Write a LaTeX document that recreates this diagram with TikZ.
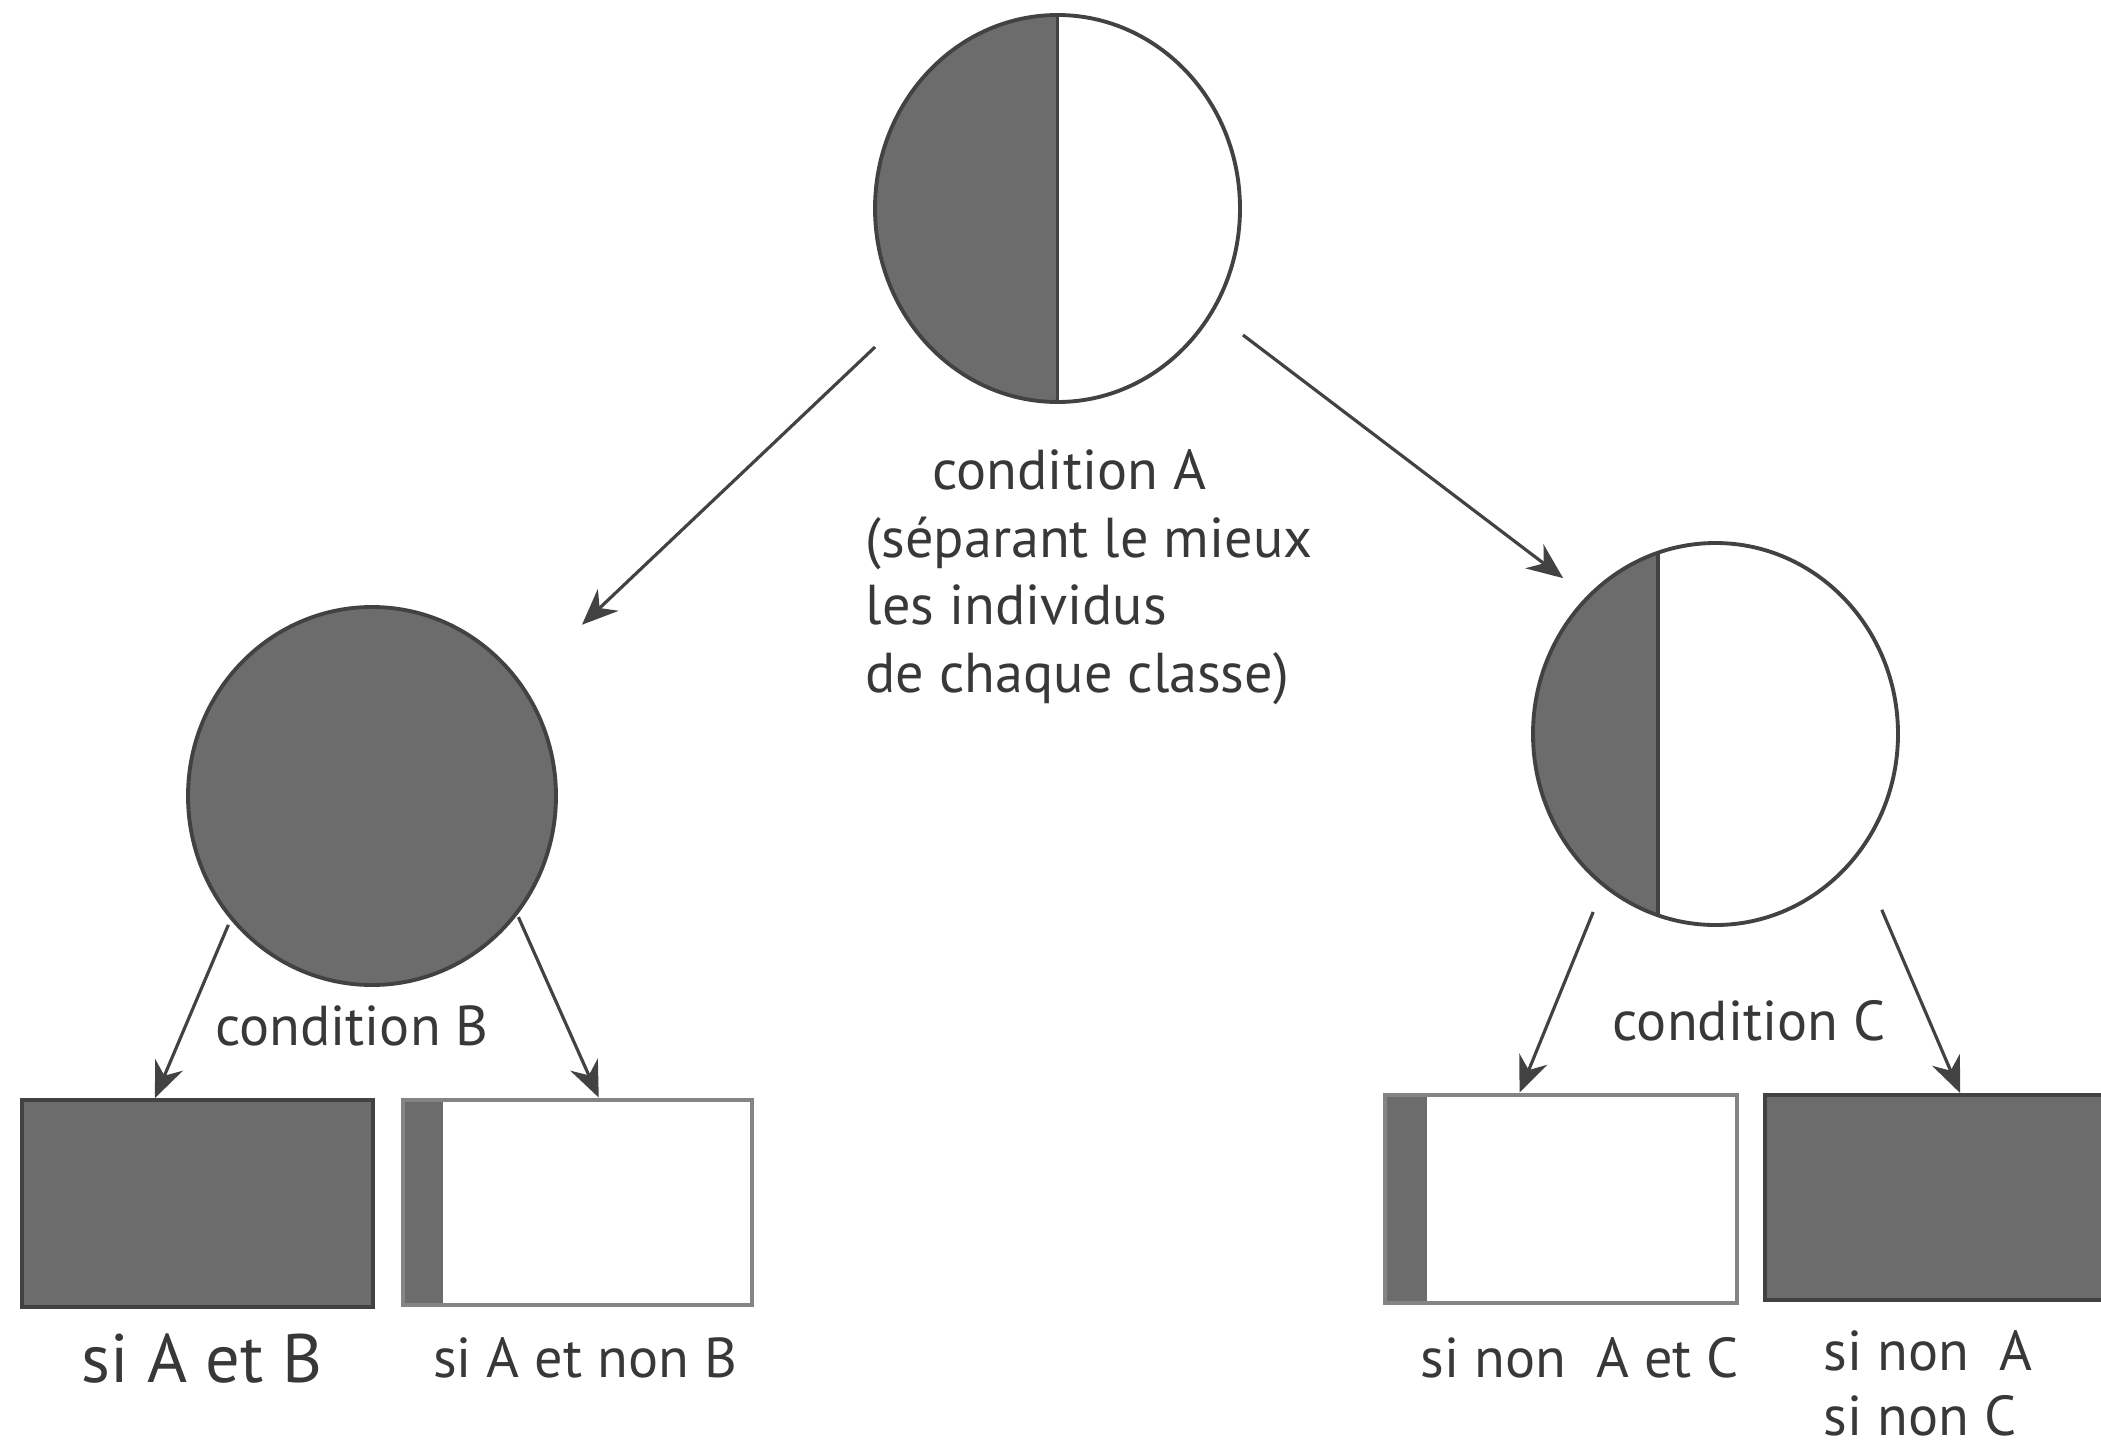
\documentclass[tikz,border=0pt]{standalone}
\usepackage{fontspec}
\setmainfont{PT Sans}
\usetikzlibrary{shapes.geometric,positioning,calc,arrows.meta}

\definecolor{darkfill}{RGB}{108,108,108}
\definecolor{edgegray}{RGB}{66,66,66}
\definecolor{rimgray}{RGB}{132,132,132}
\definecolor{inkgray}{RGB}{56,56,56}

\tikzset{
  fullnode/.style={ellipse, draw=edgegray, fill=darkfill, line width=1.1pt, inner sep=0pt},
  halfnode/.style={ellipse, draw=edgegray, line width=1.1pt, inner sep=0pt,
    path picture={
      \fill[darkfill] (path picture bounding box.south west) rectangle
        ($(path picture bounding box.north west)!#1!(path picture bounding box.north east)$);
      \draw[edgegray, line width=1pt]
        ($(path picture bounding box.south west)!#1!(path picture bounding box.south east)$) --
        ($(path picture bounding box.north west)!#1!(path picture bounding box.north east)$);}},
  leaf/.style={rectangle, draw=edgegray, line width=1.1pt, inner sep=0pt,
    minimum width=3.5cm, minimum height=2.06cm},
  fullleaf/.style={leaf, fill=darkfill},
  stripleaf/.style={leaf, draw=rimgray, line width=1.4pt,
    path picture={\fill[darkfill] (path picture bounding box.south west)
      rectangle ([xshift=#1]path picture bounding box.north west);}},
  arr/.style={draw=edgegray, line width=0.9pt, -{Stealth[length=0.36cm, width=0.3cm]}},
  lbl/.style={inner sep=0pt, text=inkgray, font=\fontsize{16}{19.2}\selectfont},
}

\begin{document}
\begin{tikzpicture}
\useasboundingbox (0,0) rectangle (21.01,-14.49);

% the three tests, shaded by share of each class
\node[halfnode=0.5, minimum width=3.65cm, minimum height=3.87cm] (A) at (10.575,-2.085) {};
\node[fullnode, minimum width=3.68cm, minimum height=3.78cm] (B) at (3.72,-7.96) {};
\node[halfnode=0.342, minimum width=3.65cm, minimum height=3.82cm] (C) at (17.155,-7.34) {};

\node[lbl, align=left, anchor=north west] (condA) at ($(A.south)+(-1.925,-0.45)$)
  {\hspace*{0.67cm}condition A\\(séparant le mieux\\les individus\\de chaque classe)};
\node[lbl, anchor=base] (condB) at (3.52,-10.45) {condition B};
\node[lbl, anchor=base] (condC) at (17.49,-10.40) {condition C};

% leaves
\node[fullleaf, minimum width=3.51cm, minimum height=2.07cm] (r1) at (1.975,-12.035) {};
\node[stripleaf=0.4cm, minimum width=3.49cm, minimum height=2.05cm] (r2) at (5.775,-12.025) {};
\node[stripleaf=0.42cm, minimum width=3.52cm, minimum height=2.08cm] (r3) at (15.61,-11.99) {};
\node[fullleaf, minimum width=3.45cm, minimum height=2.05cm] (r4) at (19.375,-11.975) {};

\node[lbl, anchor=base, font=\fontsize{19.5}{23}\selectfont] (l1) at (2.02,-13.82) {si A et B};
\node[lbl, anchor=base] (l2) at (5.85,-13.77) {si A et non B};
\node[lbl, anchor=base] (l3) at (15.80,-13.77) {si non\ \ A et C};
\node[lbl, align=left, anchor=north west, font=\fontsize{16}{18.4}\selectfont] (l4) at (18.23,-13.30)
  {si non\ \ A\\si non C};

% arrows
\draw[arr] ($(A)+(217.2:2.29)$) -- ($(B)+(39.2:2.71)$);
\draw[arr] ($(A)+(325.7:2.245)$) -- ($(C)+(134.35:2.18)$);
\draw[arr] ($(B)+(221.9:1.93)$) -- ($(r1.north west)!0.38!(r1.north east)$);
\draw[arr] ($(B)+(320.4:1.90)$) -- ($(r2.north west)!0.56!(r2.north east)$);
\draw[arr] ($(C)+(235.5:2.16)$) -- ($(r3.north west)!0.384!(r3.north east)$);
\draw[arr] ($(C)+(313.4:2.42)$) -- ($(r4.north west)!0.565!(r4.north east)$);
\end{tikzpicture}
\end{document}
